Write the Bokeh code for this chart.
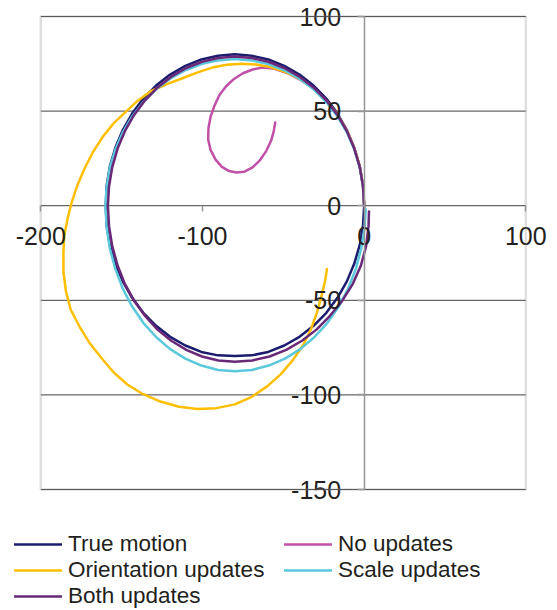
from bokeh.plotting import figure
from bokeh.models import Range1d, FixedTicker, Legend, LegendItem, BoxAnnotation
from bokeh.embed import file_html
from bokeh.resources import INLINE

# ---- data ----
true_x = [0, -0.7, -2.7, -6.1, -10.7, -16.5, -23.4, -31.3, -40, -49.4, -59.3, -69.6, -80,
          -90.4, -100.7, -110.6, -120, -128.7, -136.6, -143.5, -149.3, -153.9, -157.3, -159.3, -159.8,
          -159.3, -157.3, -153.9, -149.3, -143.5, -136.6, -128.7, -120, -110.6, -100.7, -90.4, -80,
          -69.6, -59.3, -49.4, -40, -31.3, -23.4, -16.5, -10.7, -6.1, -2.7, -0.7, 0]
true_y = [0, 10.4, 20.7, 30.6, 40, 48.7, 56.6, 63.5, 69.3, 73.9, 77.3, 79.3, 80,
          79.3, 77.3, 73.9, 69.3, 63.5, 56.6, 48.7, 40, 30.6, 20.7, 10.4, 0,
          -10.4, -20.7, -30.6, -40, -48.7, -56.6, -63.5, -69.3, -73.9, -77.3, -79.1, -79.5,
          -79.1, -77.3, -73.9, -69.3, -63.5, -56.6, -48.7, -40, -30.6, -20.7, -10.4, 0]

noupd_x = [0, -0.7, -2.7, -6.1, -10.7, -16.5, -23.4, -31.3, -40, -48, -56, -63, -69, -75,
           -80.5, -85.5, -89.5, -92.5, -95, -96.3, -96.5, -95, -92, -88, -83.5, -79, -74,
           -69, -64.5, -60.5, -57.5, -56, -55]
noupd_y = [0, 10.4, 20.6, 30.4, 39.6, 48, 55.5, 61.8, 66.8, 70.3, 72.5, 73, 72, 70,
           67, 63, 58.5, 53, 47, 41, 35, 29.5, 24.5, 20.5, 18.3, 17.5, 18,
           20.3, 24, 29, 34.5, 39, 44]

orient_x = [0, -0.7, -2.7, -6.1, -10.7, -16.5, -23.4, -31.3, -40, -49, -58, -67, -76, -85,
            -94, -103, -112, -122, -132, -140, -147, -155, -162, -168, -173, -177.5, -181,
            -183.5, -185.5, -186, -186, -184.5, -181.5, -176, -169.5, -162, -155, -146.5, -137,
            -126, -114.5, -103, -91.5, -80, -69.5, -60, -51.5, -44, -38, -33, -29, -26, -24, -23]
orient_y = [0, 10.4, 20.6, 30.4, 39.6, 48, 55.5, 62, 67, 70.8, 73.3, 74.6, 75, 74.5,
            73, 70.5, 67.5, 64.3, 60.5, 55.5, 50, 43.5, 36, 28, 19.5, 10.5, 1.5,
            -7, -16, -25, -35, -45, -55, -64, -73, -81, -88, -94.5, -99.5,
            -103.5, -106.3, -107.5, -107, -105, -101, -95.5, -89, -81.5, -74, -65.5, -56, -46.5, -39, -33.5]

scale_x = [0, -0.7, -2.7, -6.1, -10.7, -16.5, -23.4, -31.3, -40, -49.4, -59.3, -69.6, -80,
           -90.4, -100.7, -110.6, -120, -128.7, -136.6, -143.5, -149.3, -153.9, -157.3, -159.3, -160,
           -159.3, -157.3, -153.9, -149.3, -143.5, -136.6, -128.7, -120, -110.6, -100.7, -90.4, -80,
           -69.4, -59.0, -49.0, -39.5, -30.7, -22.7, -15.7, -9.9, -5.2, -1.8, 0.3, 1]
scale_y = [0, 10.1, 20.1, 29.7, 38.8, 47.2, 54.8, 61.5, 67.1, 71.6, 74.9, 76.8, 77.5,
           76.8, 74.9, 71.6, 67.1, 61.5, 54.8, 47.2, 38.8, 29.7, 20.1, 10.1, 0,
           -11.4, -22.6, -33.5, -43.8, -53.3, -61.9, -69.4, -75.8, -80.8, -84.5, -86.8, -87.5,
           -86.8, -84.5, -80.8, -75.8, -69.4, -61.9, -53.3, -43.8, -33.5, -22.6, -11.4, -2]

both_x = [0, -0.7, -2.7, -6.1, -10.7, -16.5, -23.4, -31.3, -40, -49.4, -59.3, -69.6, -80,
          -90.2, -100.3, -110.0, -119.3, -127.8, -135.5, -142.3, -148.0, -152.5, -155.8, -157.8, -158.5,
          -157.8, -155.8, -152.5, -148.0, -142.3, -135.5, -127.8, -119.3, -110.0, -100.3, -90.2, -80,
          -69.2, -58.5, -48.2, -38.5, -29.5, -21.3, -13.5, -7, -2, 1.2, 2.7, 3]
both_y = [0, 10.3, 20.4, 30.2, 39.4, 48.0, 55.7, 62.5, 68.2, 72.8, 76.1, 78.1, 78.8,
          78.1, 76.1, 72.8, 68.2, 62.5, 55.7, 48.0, 39.4, 30.2, 20.4, 10.3, 0,
          -10.8, -21.4, -31.6, -41.3, -50.2, -58.3, -65.5, -71.4, -76.2, -79.7, -81.8, -82.5,
          -81.8, -79.7, -76.2, -71.4, -65.5, -58.3, -50.2, -41.3, -31.6, -21.4, -10.8, -3]

series_names = ["True motion", "No updates", "Orientation updates", "Scale updates", "Both updates"]
series_colors = ["#1c1c6e", "#c050a8", "#ffbf00", "#5cc8dc", "#6a2878"]

x_ticks = [-200, -100, 0, 100]
x_labels = ["-200", "-100", "0", "100"]
y_ticks = [-150, -100, -50, 0, 50, 100]
y_labels = ["-150", "-100", "-50", "0", "50", "100"]

FONT = "Liberation Sans"
TXT = "#231f20"
GRID = "#404040"
FRAME = "#969696"

# the frame covers the whole canvas; the visible chart area is [-200,100] x [-150,100]
p = figure(width=557, height=610, output_backend="svg", toolbar_location=None,
           x_range=Range1d(-224.93, 119.59), y_range=Range1d(-213.95, 108.457),
           min_border_left=0, min_border_right=0, min_border_top=0, min_border_bottom=0)
p.background_fill_color = "white"
p.border_fill_color = "white"
p.outline_line_color = None
p.xgrid.visible = False
p.ygrid.visible = False

# horizontal gridlines, limited to the chart area
n = len(y_ticks)
p.segment(x0=[x_ticks[0]] * n, x1=[x_ticks[-1]] * n, y0=y_ticks, y1=y_ticks,
          line_color=GRID, line_width=1)

# chart-area border
p.add_layout(BoxAnnotation(left=x_ticks[0], right=x_ticks[-1], bottom=y_ticks[0], top=y_ticks[-1],
                           fill_alpha=0, line_color=FRAME, line_width=2.5))

# axes crossing at zero
xa = p.xaxis[0]
xa.fixed_location = 0
xa.bounds = (x_ticks[0], x_ticks[-1])
xa.ticker = FixedTicker(ticks=x_ticks)
xa.major_label_overrides = dict(zip(x_ticks, x_labels))
xa.minor_tick_line_color = None
xa.major_tick_in = 0
xa.major_tick_out = 6
xa.major_tick_line_color = FRAME
xa.major_tick_line_width = 1.5
xa.axis_line_color = None
xa.major_label_text_font = FONT
xa.major_label_text_font_size = "25px"
xa.major_label_text_color = TXT
xa.major_label_standoff = 15

ya = p.yaxis[0]
ya.fixed_location = 0
ya.bounds = (y_ticks[0], y_ticks[-1])
ya.ticker = FixedTicker(ticks=y_ticks)
ya.major_label_overrides = dict(zip(y_ticks, y_labels))
ya.minor_tick_line_color = None
ya.major_tick_in = 0
ya.major_tick_out = 7
ya.major_tick_line_color = FRAME
ya.major_tick_line_width = 1.5
ya.axis_line_color = FRAME
ya.axis_line_width = 1.5
ya.major_label_text_font = FONT
ya.major_label_text_font_size = "25px"
ya.major_label_text_color = TXT
ya.major_label_standoff = 16

xs = [true_x, noupd_x, orient_x, scale_x, both_x]
ys = [true_y, noupd_y, orient_y, scale_y, both_y]
renderers = []
for x, y, c in zip(xs, ys, series_colors):
    r = p.line(x, y, line_color=c, line_width=2.5, line_join="round", line_cap="round")
    renderers.append(r)

def make_legend(idx, loc):
    items = [LegendItem(label=series_names[i], renderers=[renderers[i]]) for i in idx]
    lg = Legend(items=items, location=loc)
    lg.label_text_font = FONT
    lg.label_text_font_size = "22.5px"
    lg.label_text_color = TXT
    lg.glyph_width = 48
    lg.glyph_height = 20
    lg.label_height = 20
    lg.label_standoff = 6
    lg.spacing = 0
    lg.padding = 0
    lg.margin = 0
    lg.border_line_color = None
    lg.background_fill_alpha = 0
    return lg

p.add_layout(make_legend([0, 2, 4], (14, 1)), "center")
p.add_layout(make_legend([1, 3], (284, 27)), "center")

open("out.html", "w").write(file_html(p, INLINE))
